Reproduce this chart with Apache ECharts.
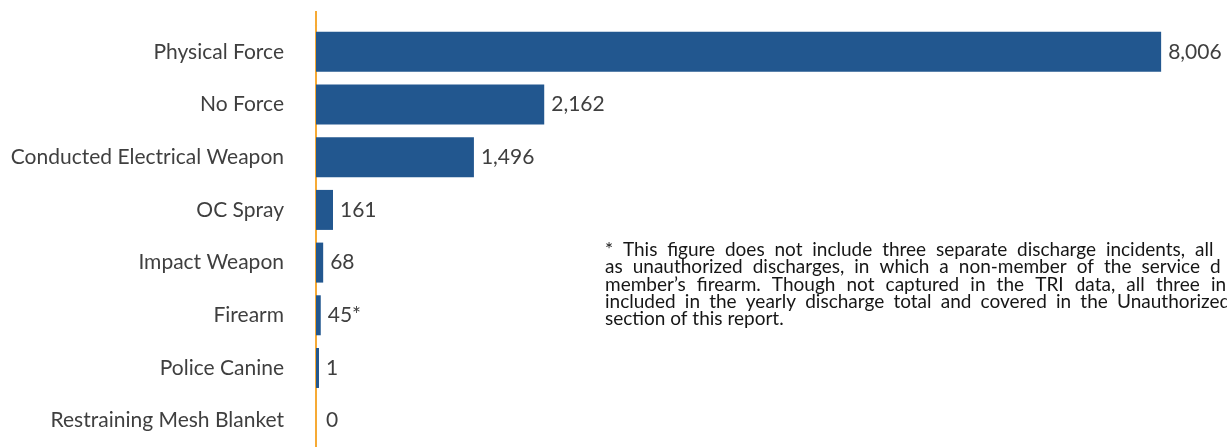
<!DOCTYPE html>
<html>
<head>
<meta charset="utf-8">
<style>
  html, body { margin: 0; padding: 0; background: #ffffff; }
  #chart { width: 1227px; height: 447px; }
</style>
<script src="https://cdn.jsdelivr.net/npm/echarts@6/dist/echarts.min.js"></script>
</head>
<body>
<div id="chart"></div>
<script>
// Use-of-force types and incident counts
const categories = [
  'Physical Force',
  'No Force',
  'Conducted Electrical Weapon',
  'OC Spray',
  'Impact Weapon',
  'Firearm',
  'Police Canine',
  'Restraining Mesh Blanket'
];
const counts = [8006, 2162, 1496, 161, 68, 45, 1, 0];
// Footnote markers appended to particular value labels
const labelSuffix = ['', '', '', '', '', '*', '', ''];

// Footnote text, one entry per printed line
const footnoteLines = [
  '* This figure does not include three separate discharge incidents, all',
  'as unauthorized discharges, in which a non-member of the service d',
  'member\u2019s firearm. Though not captured in the TRI data, all three in',
  'included in the yearly discharge total and covered in the Unauthorized',
  'section of this report.'
];

const FONT = 'Lato, "Open Sans", sans-serif';
const TEXT = '#3f3f3f';
const AXIS = '#F6AA35';

// ---- justified footnote block -------------------------------------------
const NOTE_FONT = '19px ' + FONT;
const NOTE_LEFT = 605;
const NOTE_FIRST_MID = 250;
const NOTE_LINE_H = 17.3;
// x where the last word of each justified line begins (null = ragged line)
const NOTE_LAST_WORD_X = [1195, 1210, 1211, 1117, null];

const measureCtx = document.createElement('canvas').getContext('2d');
measureCtx.font = NOTE_FONT;

function footnoteGraphics() {
  const out = [];
  footnoteLines.forEach((line, i) => {
    const y = NOTE_FIRST_MID + i * NOTE_LINE_H;
    const words = line.split(' ');
    const widths = words.map(w => measureCtx.measureText(w).width);
    const spaceW = measureCtx.measureText(' ').width;
    const lastX = NOTE_LAST_WORD_X[i];
    let gap = spaceW;
    if (lastX != null && words.length > 1) {
      const used = widths.slice(0, -1).reduce((a, b) => a + b, 0);
      gap = (lastX - NOTE_LEFT - used) / (words.length - 1);
    }
    let x = NOTE_LEFT;
    words.forEach((w, j) => {
      out.push({
        type: 'text',
        x: x,
        y: y,
        silent: true,
        style: {
          text: w,
          font: NOTE_FONT,
          fill: '#161616',
          verticalAlign: 'middle',
          align: 'left'
        }
      });
      x += widths[j] + gap;
    });
  });
  return out;
}

const chart = echarts.init(document.getElementById('chart'), null, { renderer: 'canvas' });

chart.setOption({
  animation: false,
  grid: { left: 316, right: 0, top: 25.5, height: 424, containLabel: false },
  xAxis: {
    type: 'value',
    min: 0,
    max: 8630,
    show: false
  },
  yAxis: {
    type: 'category',
    data: categories,
    inverse: true,
    axisLine: { show: true, lineStyle: { color: AXIS, width: 2 } },
    axisTick: { show: false },
    axisLabel: {
      margin: 32,
      color: TEXT,
      fontFamily: FONT,
      fontSize: 21
    }
  },
  series: [{
    type: 'bar',
    data: counts.map(v => ({
      value: v,
      // a zero count keeps its label spot but shows no bar
      itemStyle: v === 0 ? { color: 'rgba(0,0,0,0)' } : undefined
    })),
    barWidth: 40,
    barMinHeight: 3,
    itemStyle: { color: '#22578F' },
    label: {
      show: true,
      position: 'right',
      distance: 7,
      color: TEXT,
      fontFamily: FONT,
      fontSize: 21,
      formatter: p => p.value.toLocaleString('en-US') + labelSuffix[p.dataIndex]
    }
  }],
  graphic: [
    {
      // axis line continues a little above the first row
      type: 'line',
      silent: true,
      shape: { x1: 316, y1: 11, x2: 316, y2: 26 },
      style: { stroke: AXIS, lineWidth: 2 }
    }
  ].concat(footnoteGraphics())
});
</script>
</body>
</html>
